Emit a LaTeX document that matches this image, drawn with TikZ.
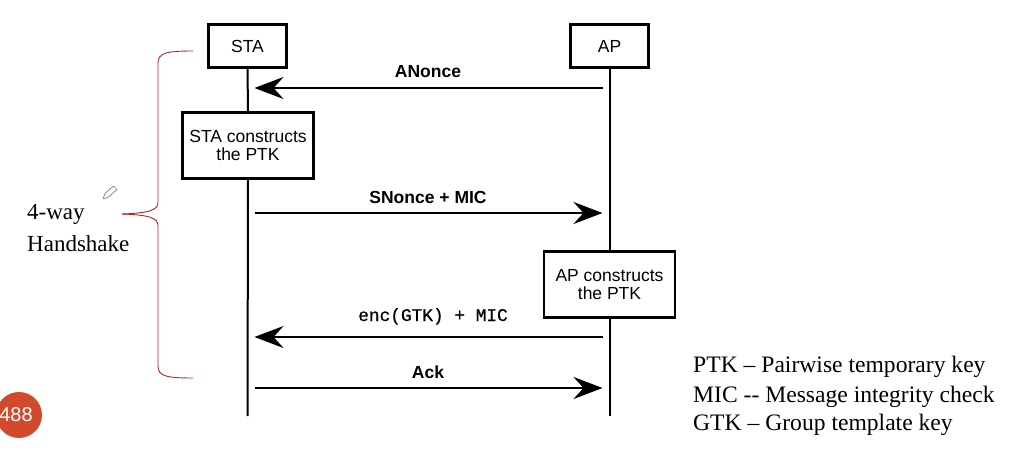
\documentclass[tikz,border=0pt]{standalone}
\usepackage{fontspec}
\setmainfont{Liberation Serif}
\newfontfamily\arialf{Liberation Sans}
\newfontfamily\courf[FakeBold=0.6]{Liberation Mono}
\usetikzlibrary{arrows.meta}
\definecolor{bracered}{RGB}{178,40,40}
\definecolor{badge}{RGB}{210,74,43}
\tikzset{
  actor/.style={draw, line width=2.3pt, fill=white, inner sep=0pt, minimum width=78pt, minimum height=43pt, font=\arialf\fontsize{17.5}{18.5}\selectfont},
  procbox/.style={draw, line width=2.3pt, fill=white, inner sep=0pt, minimum width=131pt, minimum height=66pt, align=center, font=\arialf\fontsize{17.5}{18.5}\selectfont},
  lifeline/.style={line width=2pt},
  msg/.style={line width=2.6pt, -{Stealth[length=29pt,width=22pt,inset=10pt]}, shorten >=7pt, shorten <=7pt},
  msglabel/.style={anchor=base, inner sep=0pt, font=\arialf\bfseries\fontsize{17.5}{20}\selectfont},
  monolabel/.style={anchor=base, inner sep=0pt, font=\courf\fontsize{17.8}{20}\selectfont},
  brace/.style={draw=bracered, line width=0.9pt},
  legend/.style={anchor=base west, inner sep=0pt, font=\fontsize{23.6}{26}\selectfont},
  sidetext/.style={anchor=base west, inner sep=0pt, font=\fontsize{23}{26}\selectfont},
}
\begin{document}
\begin{tikzpicture}[x=1pt,y=-1pt]
\useasboundingbox (0,0) rectangle (1009,454);
\fill[white] (0,0) rectangle (1009,454);
% actors and process boxes
\node[actor] (sta) at (247.5,46) {STA};
\node[actor] (ap) at (609.5,46) {AP};
\node[procbox] (stac) at (248,145.5) {STA constructs\\the PTK};
\node[procbox] (apc) at (609.5,284.5) {AP constructs\\the PTK};
\coordinate (staend) at (sta.south |- 0,416);
\coordinate (apend) at (ap.south |- 0,416);
% lifelines
\draw[lifeline] (sta.south) -- (stac.north);
\draw[lifeline] (stac.south) -- (staend);
\draw[lifeline] (ap.south) -- (apc.north);
\draw[lifeline] (apc.south) -- (apend);
% messages
\draw[msg] (ap.south |- 0,88) -- (sta.south |- 0,88);
\node[msglabel] (l1) at (428,78) {ANonce};
\draw[msg] (sta.south |- 0,213) -- (ap.south |- 0,213);
\node[msglabel] (l2) at (428,204) {SNonce + MIC};
\draw[msg] (ap.south |- 0,337) -- (sta.south |- 0,337);
\node[monolabel] (l3) at (433,321) {enc(GTK) + MIC};
\draw[msg] (sta.south |- 0,388) -- (ap.south |- 0,388);
\node[msglabel] (l4) at (428,378) {Ack};
% brace
\draw[brace] (193,51) .. controls (166,51) and (158,53) .. (158,63) -- (158,202)
  .. controls (158,210) and (150,213) .. (122,214);
\draw[brace] (122,214) .. controls (150,215) and (158,218) .. (158,226) -- (158,366)
  .. controls (158,376) and (166,378) .. (193,378);
\node[sidetext] (hs1) at (27,220) {4-way};
\node[sidetext] (hs2) at (27,252) {Handshake};
% pencil cursor
\draw[gray, line width=0.7pt, rounded corners=0.8pt] (103,199) -- (105,193.5) -- (113.5,186) -- (117,189.5) -- (108.5,197) -- cycle;
% legend
\node[legend] (g1) at (693,372) {PTK -- Pairwise temporary key};
\node[legend] (g2) at (693,402) {MIC -{}- Message integrity check};
\node[legend] (g3) at (693,430) {GTK -- Group template key};
% page badge
\fill[badge] (19,415) circle (23);
\node[text=white, inner sep=0pt, font=\arialf\fontsize{20}{22}\selectfont] (badge) at (16,415) {488};
\end{tikzpicture}
\end{document}
